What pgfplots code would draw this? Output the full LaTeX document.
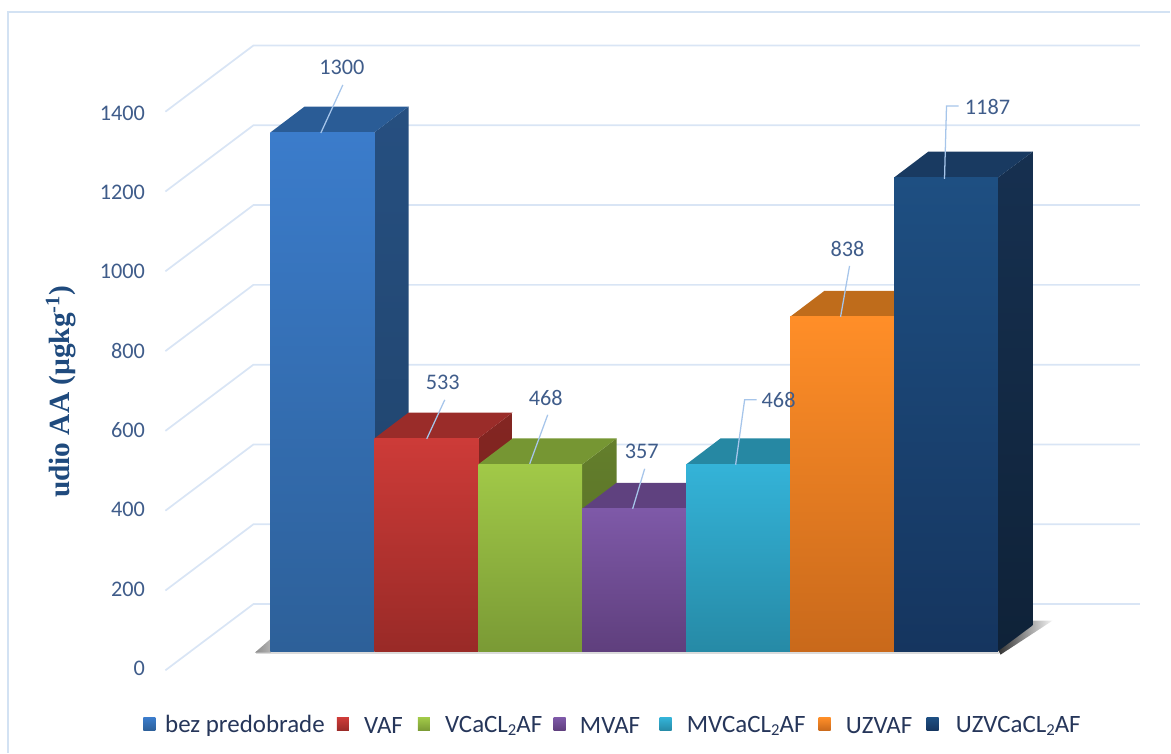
\documentclass[border=0pt]{standalone}
\usepackage{pgfplots}
\pgfplotsset{compat=1.18}
\usepackage{fontspec}
\setmainfont{Carlito}
\newfontfamily\lserif{Liberation Serif}
\definecolor{gridc}{HTML}{D9E5F5}
\definecolor{framec}{HTML}{D3E2F3}
\definecolor{tickc}{HTML}{3F5C8A}
\definecolor{legc}{HTML}{26365A}
\definecolor{leadc}{HTML}{A6C5EA}
\definecolor{ylabc}{HTML}{1F4A7D}
% bars: front top, front bottom, top face, side top, side bottom
\definecolor{Aa}{HTML}{3B7CCB}\definecolor{Ab}{HTML}{2D6099}\definecolor{At}{HTML}{2A5C96}\definecolor{As}{HTML}{264F80}\definecolor{Ar}{HTML}{1F4269}
\definecolor{Ba}{HTML}{CD3B38}\definecolor{Bb}{HTML}{992A27}\definecolor{Bt}{HTML}{9A2C29}\definecolor{Bs}{HTML}{842622}\definecolor{Br}{HTML}{6E1F1C}
\definecolor{Ca}{HTML}{A1C948}\definecolor{Cb}{HTML}{7A9A35}\definecolor{Ct}{HTML}{769633}\definecolor{Cs}{HTML}{647F2C}\definecolor{Cr}{HTML}{526824}
\definecolor{Da}{HTML}{7E59A8}\definecolor{Db}{HTML}{5F3F7D}\definecolor{Dt}{HTML}{5F417F}\definecolor{Ds}{HTML}{50366B}\definecolor{Dr}{HTML}{432D59}
\definecolor{Ea}{HTML}{34B3D8}\definecolor{Eb}{HTML}{268AA6}\definecolor{Et}{HTML}{2688A3}\definecolor{Es}{HTML}{20738B}\definecolor{Er}{HTML}{1B5F73}
\definecolor{Fa}{HTML}{FF8E28}\definecolor{Fb}{HTML}{C9691B}\definecolor{Ft}{HTML}{BF6C1B}\definecolor{Fs}{HTML}{A35B16}\definecolor{Fr}{HTML}{874B12}
\definecolor{Ga}{HTML}{1E4F82}\definecolor{Gb}{HTML}{15355F}\definecolor{Gt}{HTML}{193A61}\definecolor{Gs}{HTML}{163050}\definecolor{Gr}{HTML}{0F2238}
\newcommand\PX[2]{(axis cs:{(#1-270.5)/104},{(651.5-(#2))/0.3992})}
\newcommand\sub[1]{\raisebox{-.25ex}{\fontsize{12.5}{12.5}\selectfont #1}}
\newcommand\legsq[4]{\shade[top color=#3,bottom color=#4] \PX{#1}{#2} rectangle \PX{#1+12}{#2+13};}
\newcommand\leg[2]{\node[anchor=west,inner sep=0pt,text=legc,font=\fontsize{18.7}{18.7}\selectfont] at \PX{#1}{726} {#2};}
\newcommand\val[3]{\node[text=tickc,inner sep=0pt,font=\fontsize{16.7}{16.7}\selectfont] at \PX{#1}{#2} {#3};}
\pgfplotsset{
  gl/.style={gridc,line width=1.3pt,forget plot},
  fc/.style n args={2}{draw=none,top color=#1,bottom color=#2,forget plot},
}
\begin{document}
\begin{tikzpicture}
\begin{axis}[
  width=878.25pt,height=564.75pt,scale only axis,
  xmin=-2.60096,xmax=8.65865,ymin=-254.27,ymax=1632.0,
  axis line style={draw=none},
  xtick=\empty,
  ytick={-43,156,355,554,752,951,1150,1349},
  yticklabels={0,200,400,600,800,1000,1200,1400},
  ytick style={draw=none},
  major tick length=0pt,
  /pgf/number format/assume math mode=true,
  yticklabel style={anchor=east,xshift=109pt,inner sep=0pt,text=tickc,font=\fontsize{16.7}{16.7}\selectfont},
  clip=false,
]
% frame
\draw[framec,line width=0.9pt] \PX{8}{753} -- \PX{8}{12} -- \PX{1171}{12};
% grid lines: tick value - 48 at the front edge, + 118 on the back wall
\addplot[gl] coordinates {(-1.01,-48)(-0.163,118)(8.365,118)};
\addplot[gl] coordinates {(-1.01,152)(-0.163,318)(8.365,318)};
\addplot[gl] coordinates {(-1.01,352)(-0.163,518)(8.365,518)};
\addplot[gl] coordinates {(-1.01,552)(-0.163,718)(8.365,718)};
\addplot[gl] coordinates {(-1.01,752)(-0.163,918)(8.365,918)};
\addplot[gl] coordinates {(-1.01,952)(-0.163,1118)(8.365,1118)};
\addplot[gl] coordinates {(-1.01,1152)(-0.163,1318)(8.365,1318)};
\addplot[gl] coordinates {(-1.01,1352)(-0.163,1518)(8.365,1518)};
% shadows
\fill[black!14] \PX{256}{651} rectangle \PX{1000}{654.5};
\shade[left color=black!45,right color=black!30] \PX{271}{639} -- \PX{255}{653} -- \PX{271}{653} -- cycle;
\shade[left color=black!80,right color=black!4] \PX{999}{651} -- \PX{1033}{621} -- \PX{1053}{621} -- \PX{1001}{655} -- cycle;
% bar 1: 1300
\addplot[fc={As}{Ar}] coordinates {(1,0)(1,1300)(1.33,1365)(1.33,65)} --cycle;
\addplot[draw=none,fill=At,forget plot] coordinates {(0,1300)(0.33,1365)(1.33,1365)(1,1300)} --cycle;
\addplot[fc={Aa}{Ab}] coordinates {(0,0)(0,1300)(1,1300)(1,0)} --cycle;
% bar 2: 533
\addplot[fc={Bs}{Br}] coordinates {(2,0)(2,533)(2.33,598)(2.33,65)} --cycle;
\addplot[draw=none,fill=Bt,forget plot] coordinates {(1,533)(1.33,598)(2.33,598)(2,533)} --cycle;
\addplot[fc={Ba}{Bb}] coordinates {(1,0)(1,533)(2,533)(2,0)} --cycle;
% bar 3: 468
\addplot[fc={Cs}{Cr}] coordinates {(3,0)(3,468)(3.33,533)(3.33,65)} --cycle;
\addplot[draw=none,fill=Ct,forget plot] coordinates {(2,468)(2.33,533)(3.33,533)(3,468)} --cycle;
\addplot[fc={Ca}{Cb}] coordinates {(2,0)(2,468)(3,468)(3,0)} --cycle;
% bar 4: 357
\addplot[fc={Ds}{Dr}] coordinates {(4,0)(4,357)(4.33,422)(4.33,65)} --cycle;
\addplot[draw=none,fill=Dt,forget plot] coordinates {(3,357)(3.33,422)(4.33,422)(4,357)} --cycle;
\addplot[fc={Da}{Db}] coordinates {(3,0)(3,357)(4,357)(4,0)} --cycle;
% bar 5: 468
\addplot[fc={Es}{Er}] coordinates {(5,0)(5,468)(5.33,533)(5.33,65)} --cycle;
\addplot[draw=none,fill=Et,forget plot] coordinates {(4,468)(4.33,533)(5.33,533)(5,468)} --cycle;
\addplot[fc={Ea}{Eb}] coordinates {(4,0)(4,468)(5,468)(5,0)} --cycle;
% bar 6: 838
\addplot[fc={Fs}{Fr}] coordinates {(6,0)(6,838)(6.33,903)(6.33,65)} --cycle;
\addplot[draw=none,fill=Ft,forget plot] coordinates {(5,838)(5.33,903)(6.33,903)(6,838)} --cycle;
\addplot[fc={Fa}{Fb}] coordinates {(5,0)(5,838)(6,838)(6,0)} --cycle;
% bar 7: 1187
\addplot[fc={Gs}{Gr}] coordinates {(7,0)(7,1187)(7.335,1252)(7.335,65)} --cycle;
\addplot[draw=none,fill=Gt,forget plot] coordinates {(6,1187)(6.33,1252)(7.335,1252)(7,1187)} --cycle;
\addplot[fc={Ga}{Gb}] coordinates {(6,0)(6,1187)(7,1187)(7,0)} --cycle;
% leaders
\begin{scope}[leadc,line width=0.95pt]
\draw \PX{343}{85} -- \PX{321}{133};
\draw \PX{445}{400} -- \PX{427}{439};
\draw \PX{548}{415} -- \PX{530}{464};
\draw \PX{645}{469} -- \PX{633}{509};
\draw \PX{757}{400} -- \PX{745}{400} -- \PX{736}{465};
\draw \PX{850}{266} -- \PX{841}{317};
\draw \PX{959}{106} -- \PX{947}{106} -- \PX{945}{179};
\end{scope}
% value labels
\val{342}{67}{1300}
\val{443}{383}{533}
\val{546}{398}{468}
\val{642}{452}{357}
\val{779}{400}{468}
\val{848}{249}{838}
\val{988}{107}{1187}
% y title
\node[rotate=90,text=ylabc,inner sep=0pt,font=\lserif\bfseries\fontsize{22}{22}\selectfont] at \PX{61}{392} {udio AA (µgkg\textsuperscript{-1})};
% legend
\legsq{143.5}{718}{Aa}{Ab}
\leg{165}{bez predobrade}
\legsq{337}{718}{Ba}{Bb}
\leg{364}{VAF}
\legsq{418}{718}{Ca}{Cb}
\leg{445}{VCaCL\sub{2}AF}
\legsq{554}{718}{Da}{Db}
\leg{580}{MVAF}
\legsq{660}{718}{Ea}{Eb}
\leg{687}{MVCaCL\sub{2}AF}
\legsq{819}{718}{Fa}{Fb}
\leg{846}{UZVAF}
\legsq{927}{718}{Ga}{Gb}
\leg{956}{UZVCaCL\sub{2}AF}
\end{axis}
\end{tikzpicture}
\end{document}
